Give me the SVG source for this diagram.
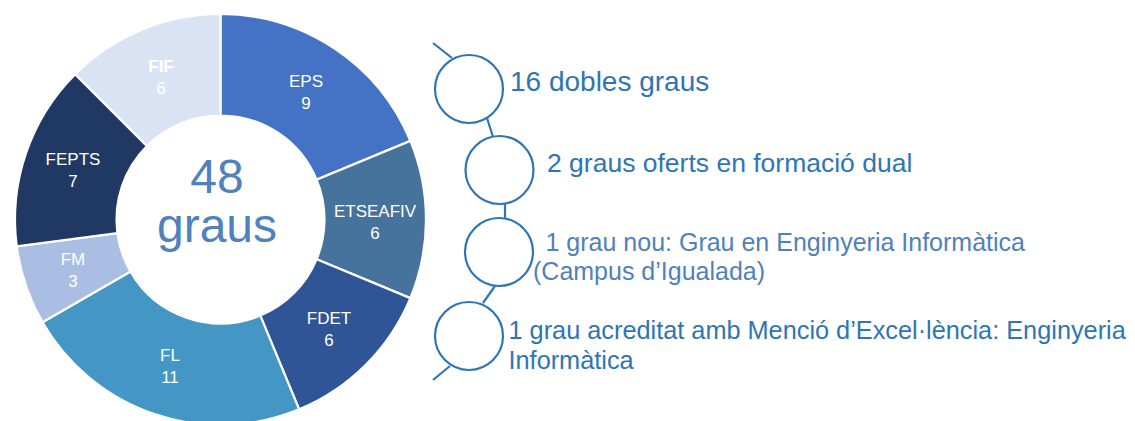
<svg xmlns="http://www.w3.org/2000/svg" width="1135" height="421" viewBox="0 0 1135 421">
<style>
.slice{stroke:#fff;stroke-width:2.2;stroke-linejoin:miter}
.lbl{font-family:"Liberation Sans",Arial,Helvetica,sans-serif;font-size:17px;fill:#fff;text-anchor:middle}
.center{font-family:"Liberation Sans",Arial,Helvetica,sans-serif;font-size:48px;fill:#4F81BD;text-anchor:middle}
.ring{fill:none;stroke:#2E75B6;stroke-width:2.2}
.link{stroke:#2E75B6;stroke-width:2.2;fill:none}
.item{font-family:"Liberation Sans",Arial,Helvetica,sans-serif;fill:#2E75B6}
</style>
<rect width="1135" height="421" fill="#fff"/>
<g id="donut">
<g id="EPS">
<path class="slice" fill="#4472C4" d="M220.5,14 A205.5,205.5 0 0 1 410.36,140.86 L316.58,179.70 A104,104 0 0 0 220.5,115.5 Z"/>
<text class="lbl" x="306" y="87">EPS</text><text class="lbl" x="306" y="109">9</text>
</g>
<g id="ETSEAFIV">
<path class="slice" fill="#46739B" d="M410.36,140.86 A205.5,205.5 0 0 1 410.36,298.14 L316.58,259.30 A104,104 0 0 0 316.58,179.70 Z"/>
<text class="lbl" x="375" y="217">ETSEAFIV</text><text class="lbl" x="375" y="239">6</text>
</g>
<g id="FDET">
<path class="slice" fill="#2F5597" d="M410.36,298.14 A205.5,205.5 0 0 1 299.14,409.36 L260.30,315.58 A104,104 0 0 0 316.58,259.30 Z"/>
<text class="lbl" x="329" y="324">FDET</text><text class="lbl" x="329" y="346">6</text>
</g>
<g id="FL">
<path class="slice" fill="#4497C5" d="M299.14,409.36 A205.5,205.5 0 0 1 42.53,322.25 L130.43,271.5 A104,104 0 0 0 260.30,315.58 Z"/>
<text class="lbl" x="170" y="361">FL</text><text class="lbl" x="170" y="383">11</text>
</g>
<g id="FM">
<path class="slice" fill="#AABDE2" d="M42.53,322.25 A205.5,205.5 0 0 1 16.76,246.32 L117.39,233.08 A104,104 0 0 0 130.43,271.5 Z"/>
<text class="lbl" x="73" y="265">FM</text><text class="lbl" x="73" y="287">3</text>
</g>
<g id="FEPTS">
<path class="slice" fill="#203864" d="M16.76,246.32 A205.5,205.5 0 0 1 75.19,74.19 L146.96,145.96 A104,104 0 0 0 117.39,233.08 Z"/>
<text class="lbl" x="73" y="165">FEPTS</text><text class="lbl" x="73" y="187">7</text>
</g>
<g id="FIF">
<path class="slice" fill="#DAE3F3" d="M75.19,74.19 A205.5,205.5 0 0 1 220.5,14 L220.5,115.5 A104,104 0 0 0 146.96,145.96 Z"/>
<text class="lbl" x="161" y="72" font-weight="bold">FIF</text><text class="lbl" x="161" y="94">6</text>
</g>
<g id="total">
<text class="center" x="217" y="193">48</text>
<text class="center" x="217" y="242">graus</text>
</g>
</g>
<g id="connectors">
<line class="link" x1="433" y1="43" x2="452" y2="58"/>
<line class="link" x1="487" y1="118" x2="493" y2="137"/>
<line class="link" x1="505" y1="203" x2="505" y2="218"/>
<line class="link" x1="495" y1="286" x2="483" y2="303"/>
<line class="link" x1="450" y1="366" x2="433" y2="380"/>
</g>
<g id="item1">
<circle class="ring" cx="469" cy="89" r="34"/>
<text class="item" x="510" y="91" font-size="28">16 dobles graus</text>
</g>
<g id="item2">
<circle class="ring" cx="499.5" cy="170" r="34"/>
<text class="item" x="547" y="172" font-size="26.5">2 graus oferts en formació dual</text>
</g>
<g id="item3">
<circle class="ring" cx="499" cy="252" r="34"/>
<text class="item" font-size="25" style="fill:#4F81BD"><tspan x="545.5" y="251">1 grau nou: Grau en Enginyeria Informàtica</tspan><tspan x="533" y="280">(Campus d’Igualada)</tspan></text>
</g>
<g id="item4">
<circle class="ring" cx="469" cy="336" r="34"/>
<text class="item" font-size="25.3"><tspan x="508.5" y="339">1 grau acreditat amb Menció d’Excel·lència: Enginyeria</tspan><tspan x="508.5" y="369">Informàtica</tspan></text>
</g>
</svg>
